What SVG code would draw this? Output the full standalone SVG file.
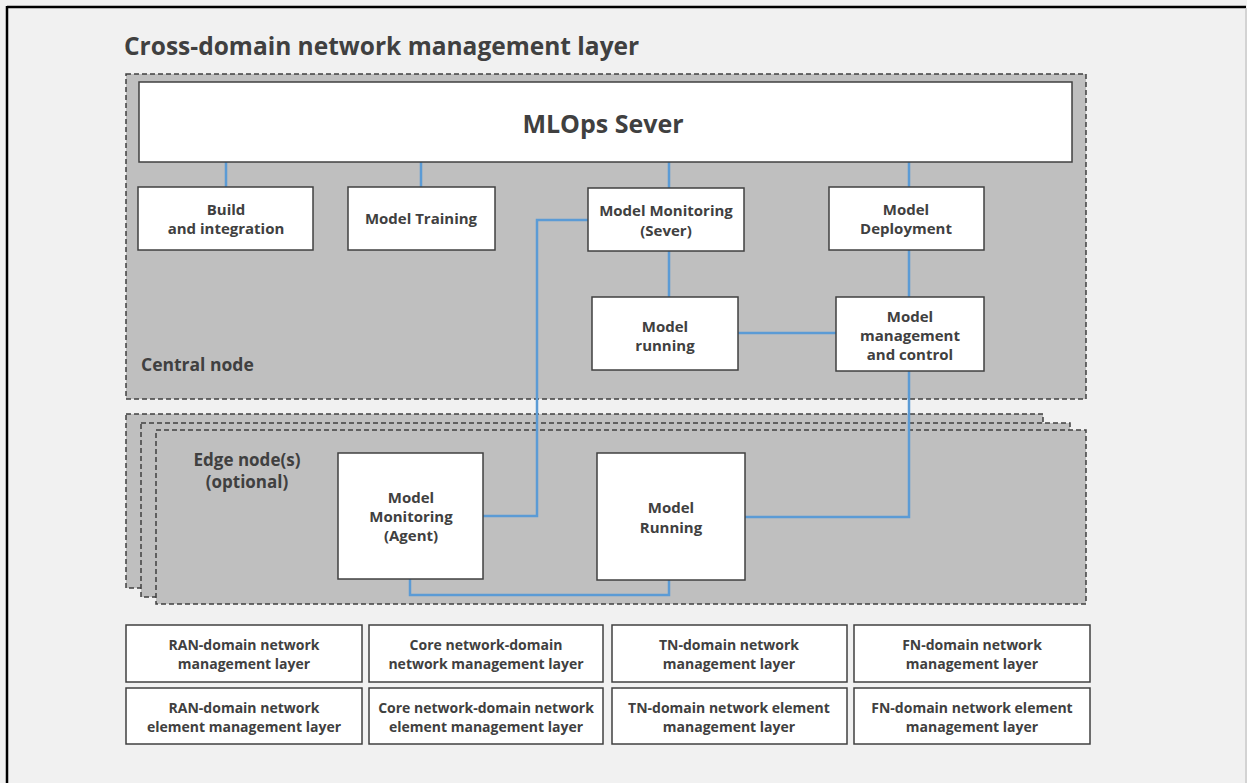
<svg xmlns="http://www.w3.org/2000/svg" width="1247" height="783" viewBox="0 0 1247 783">
<style>
text{font-family:"Open Sans","Noto Sans","Liberation Sans",sans-serif;font-weight:bold;fill:#404040;text-anchor:middle}
.box{fill:#ffffff;stroke:#404040;stroke-width:1.5}
.zone{fill:#bfbfbf;stroke:#404040;stroke-width:1.5;stroke-dasharray:5 3}
.n{font-size:15px}
.t{font-size:14px}
.conn{fill:none;stroke:#5b9bd5;stroke-width:2.5}
</style>
<rect x="0" y="0" width="1247" height="783" fill="#f1f1f1"/>
<g id="frame">
<line x1="7" y1="7" x2="1246" y2="7" stroke="#000" stroke-width="2.5"/>
<line x1="7" y1="6" x2="7" y2="783" stroke="#000" stroke-width="2.5"/>
<line x1="1246" y1="8" x2="1246" y2="783" stroke="#c8c8c8" stroke-width="1.5"/>
</g>
<text x="124" y="55" style="font-size:24.5px;text-anchor:start">Cross-domain network management layer</text>
<g id="central-node">
<rect class="zone" x="126" y="74" width="960" height="325"/>
<text x="141" y="371" style="font-size:17.5px;text-anchor:start">Central node</text>
</g>
<g id="edge-nodes">
<rect class="zone" x="126" y="414" width="917" height="174"/>
<rect class="zone" x="141" y="423" width="929" height="174"/>
<rect class="zone" x="156" y="430" width="930" height="174"/>
<text x="247" y="466" style="font-size:17px">Edge node(s)</text>
<text x="247" y="488" style="font-size:17px">(optional)</text>
</g>
<g id="connectors">
<line class="conn" x1="226" y1="162" x2="226" y2="187"/>
<line class="conn" x1="421" y1="162" x2="421" y2="187"/>
<line class="conn" x1="669" y1="162" x2="669" y2="188"/>
<line class="conn" x1="909" y1="162" x2="909" y2="187"/>
<line class="conn" x1="669" y1="251" x2="669" y2="297"/>
<line class="conn" x1="909" y1="250" x2="909" y2="297"/>
<line class="conn" x1="738" y1="333" x2="836" y2="333"/>
<polyline class="conn" points="909,371 909,517 745,517"/>
<polyline class="conn" points="588,220 537,220 537,516 483,516"/>
<polyline class="conn" points="410,579 410,595 669,595 669,580"/>
</g>
<g id="mlops-server">
<rect class="box" x="139" y="82" width="933" height="80"/>
<text x="603" y="133" style="font-size:25px">MLOps Sever</text>
</g>
<g id="build-integration">
<rect class="box" x="138" y="187" width="175" height="63"/>
<text class="n" x="226" y="215">Build</text>
<text class="n" x="226" y="234">and integration</text>
</g>
<g id="model-training">
<rect class="box" x="348" y="187" width="147" height="63"/>
<text class="n" x="421" y="224">Model Training</text>
</g>
<g id="model-monitoring-server">
<rect class="box" x="588" y="188" width="156" height="63"/>
<text class="n" x="666" y="216">Model Monitoring</text>
<text class="n" x="666" y="236">(Sever)</text>
</g>
<g id="model-deployment">
<rect class="box" x="829" y="187" width="155" height="63"/>
<text class="n" x="906" y="215">Model</text>
<text class="n" x="906" y="234">Deployment</text>
</g>
<g id="model-running-central">
<rect class="box" x="592" y="297" width="146" height="73"/>
<text class="n" x="665" y="332">Model</text>
<text class="n" x="665" y="351">running</text>
</g>
<g id="model-management">
<rect class="box" x="836" y="297" width="148" height="74"/>
<text class="n" x="910" y="322">Model</text>
<text class="n" x="910" y="341">management</text>
<text class="n" x="910" y="360">and control</text>
</g>
<g id="model-monitoring-agent">
<rect class="box" x="338" y="453" width="145" height="126"/>
<text class="n" x="411" y="503">Model</text>
<text class="n" x="411" y="522">Monitoring</text>
<text class="n" x="411" y="541">(Agent)</text>
</g>
<g id="model-running-edge">
<rect class="box" x="597" y="453" width="148" height="127"/>
<text class="n" x="671" y="513">Model</text>
<text class="n" x="671" y="533">Running</text>
</g>
<g id="ran-nm">
<rect class="box" x="126" y="625" width="236" height="57"/>
<text class="t" x="244" y="650">RAN-domain network</text>
<text class="t" x="244" y="669">management layer</text>
</g>
<g id="core-nm">
<rect class="box" x="369" y="625" width="234" height="57"/>
<text class="t" x="486" y="650">Core network-domain</text>
<text class="t" x="486" y="669">network management layer</text>
</g>
<g id="tn-nm">
<rect class="box" x="612" y="625" width="235" height="57"/>
<text class="t" x="729" y="650">TN-domain network</text>
<text class="t" x="729" y="669">management layer</text>
</g>
<g id="fn-nm">
<rect class="box" x="854" y="625" width="236" height="57"/>
<text class="t" x="972" y="650">FN-domain network</text>
<text class="t" x="972" y="669">management layer</text>
</g>
<g id="ran-em">
<rect class="box" x="126" y="688" width="236" height="56"/>
<text class="t" x="244" y="713">RAN-domain network</text>
<text class="t" x="244" y="732">element management layer</text>
</g>
<g id="core-em">
<rect class="box" x="369" y="688" width="234" height="56"/>
<text class="t" x="486" y="713">Core network-domain network</text>
<text class="t" x="486" y="732">element management layer</text>
</g>
<g id="tn-em">
<rect class="box" x="612" y="688" width="235" height="56"/>
<text class="t" x="729" y="713">TN-domain network element</text>
<text class="t" x="729" y="732">management layer</text>
</g>
<g id="fn-em">
<rect class="box" x="854" y="688" width="236" height="56"/>
<text class="t" x="972" y="713">FN-domain network element</text>
<text class="t" x="972" y="732">management layer</text>
</g>
</svg>
